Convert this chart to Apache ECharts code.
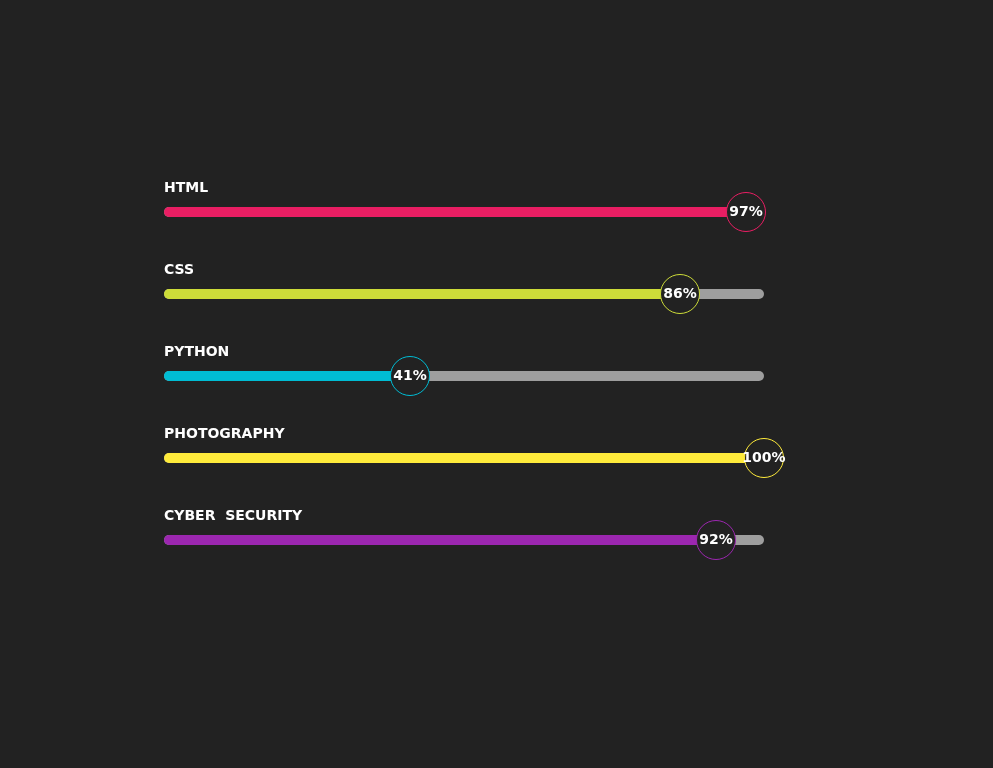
<!DOCTYPE html>
<html>
<head>
<meta charset="utf-8">
<script src="https://cdn.jsdelivr.net/npm/echarts@6/dist/echarts.min.js"></script>
<style>
html,body{margin:0;padding:0;background:#222222;}
#main{width:993px;height:768px;}
</style>
</head>
<body>
<div id="main"></div>
<script>
var categories = ['HTML', 'CSS', 'PYTHON', 'PHOTOGRAPHY', 'CYBER  SECURITY'];
var values = [97, 86, 41, 100, 92];
var palette = ['#E91E63', '#CDDC39', '#00BCD4', '#FFEB3B', '#9C27B0'];

var chart = echarts.init(document.getElementById('main'));
var barData = values.map(function (v, i) {
  return { value: v, itemStyle: { color: palette[i] } };
});
var dotData = values.map(function (v, i) {
  return { value: [v, i], itemStyle: { borderColor: palette[i] } };
});
chart.setOption({
  backgroundColor: '#222222',
  animation: false,
  grid: { left: 164, right: 229, top: 171, bottom: 187 },
  xAxis: { type: 'value', min: 0, max: 100, show: false },
  yAxis: {
    type: 'category', data: categories, inverse: true,
    axisLine: { show: false }, axisTick: { show: false }, axisLabel: { show: false }
  },
  series: [
    {
      type: 'bar',
      data: barData,
      barWidth: 10,
      showBackground: true,
      backgroundStyle: { color: '#9E9E9E', borderRadius: 5 },
      itemStyle: { borderRadius: 5 },
      label: {
        show: true,
        position: [0, -26],
        formatter: function (p) { return p.name; },
        color: '#ffffff',
        fontFamily: 'DejaVu Sans',
        fontWeight: 'bold',
        fontSize: 14
      },
      z: 2
    },
    {
      type: 'scatter',
      data: dotData,
      symbol: 'circle',
      symbolSize: 39,
      itemStyle: { color: '#222222', borderWidth: 1, opacity: 1 },
      label: {
        show: true,
        position: 'inside',
        formatter: function (p) { return p.value[0] + '%'; },
        color: '#ffffff',
        fontFamily: 'DejaVu Sans',
        fontWeight: 'bold',
        fontSize: 14
      },
      z: 5
    }
  ]
});
</script>
</body>
</html>
